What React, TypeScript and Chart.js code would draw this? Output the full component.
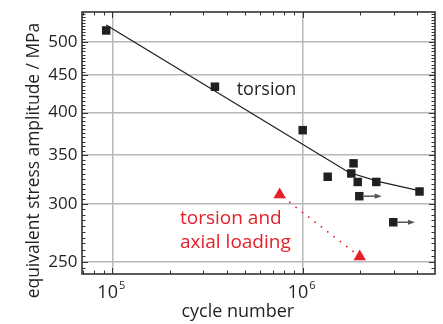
import React, { useEffect, useRef } from 'react';
import { Chart, registerables } from 'chart.js';

Chart.register(...registerables);

// ---- data ----
const torsionCycles = [9.29e4, 3.46e5, 1.0e6, 1.353e6, 1.8e6, 1.849e6, 1.945e6, 2.436e6, 4.107e6, 1.983e6, 2.991e6];
const torsionStress = [518, 434, 378.5, 326.9, 330.3, 341, 321.6, 321.6, 312.1, 307.5, 283.3];

const runoutCycles = [1.983e6, 2.991e6];
const runoutStress = [307.5, 283.3];
const runoutArrowTo = [2.6e6, 3.89e6];

const fitCycles = [9.29e4, 1.751e6, 2.547e6, 4.082e6];
const fitStress = [527, 331.3, 321.8, 313];

const combinedCycles = [7.57e5, 1.993e6];
const combinedStress = [309, 254.3];

const xTicks = [1e5, 1e6];
const xTickExponents = ['5', '6'];
const xMinorTicks = [7e4, 8e4, 9e4, 2e5, 3e5, 4e5, 5e5, 6e5, 7e5, 8e5, 9e5, 2e6, 3e6, 4e6];
const yTicks = [250, 300, 350, 400, 450, 500];
const yMinorStep = 5;

const X_MIN = 69330;
const X_MAX = 4.953e6;
const Y_MIN = 240.74;
const Y_MAX = 548.97;

const DARK = '#231f20';
const RED = '#e5202a';
const FONT = '"Open Sans", "Noto Sans", sans-serif';

const decor = {
  id: 'decor',
  afterDatasetsDraw(chart: any) {
    const { ctx, chartArea: a, scales } = chart;
    const xs = scales.x;
    const ys = scales.y;
    ctx.save();
    // run-out arrows
    ctx.strokeStyle = '#555';
    ctx.fillStyle = '#555';
    ctx.lineWidth = 1.5;
    runoutCycles.forEach((c, i) => {
      const x0 = xs.getPixelForValue(c) + 4.3;
      const yy = ys.getPixelForValue(runoutStress[i]);
      const x1 = xs.getPixelForValue(runoutArrowTo[i]);
      ctx.beginPath();
      ctx.moveTo(x0, yy);
      ctx.lineTo(x1 - 5, yy);
      ctx.stroke();
      ctx.beginPath();
      ctx.moveTo(x1, yy);
      ctx.lineTo(x1 - 7, yy - 2.6);
      ctx.lineTo(x1 - 7, yy + 2.6);
      ctx.closePath();
      ctx.fill();
    });

    // minor / major tick marks on all four sides (inward)
    ctx.strokeStyle = '#333';
    ctx.lineWidth = 1;
    const tick = (x1: number, y1: number, x2: number, y2: number) => {
      ctx.beginPath();
      ctx.moveTo(x1, y1);
      ctx.lineTo(x2, y2);
      ctx.stroke();
    };
    const drawX = (v: number, len: number) => {
      const px = Math.round(xs.getPixelForValue(v)) + 0.5;
      tick(px, a.bottom, px, a.bottom - len);
      tick(px, a.top, px, a.top + len);
    };
    const drawY = (v: number, len: number) => {
      const py = Math.round(ys.getPixelForValue(v)) + 0.5;
      tick(a.left, py, a.left + len, py);
      tick(a.right, py, a.right - len, py);
    };
    xMinorTicks.forEach((v) => drawX(v, 3.5));
    xTicks.forEach((v) => drawX(v, 6));
    for (let v = 245; v < Y_MAX; v += yMinorStep) {
      if (v > Y_MIN) drawY(v, 3.5);
    }
    yTicks.forEach((v) => drawY(v, 6));

    // frame
    ctx.strokeStyle = '#333';
    ctx.lineWidth = 1.6;
    ctx.strokeRect(a.left, a.top, a.right - a.left, a.bottom - a.top);
    ctx.restore();
  },
  afterDraw(chart: any) {
    const { ctx, scales } = chart;
    const xs = scales.x;
    const ys = scales.y;
    ctx.save();
    ctx.fillStyle = DARK;
    // y tick labels
    ctx.font = `17px ${FONT}`;
    ctx.textAlign = 'right';
    ctx.textBaseline = 'middle';
    yTicks.forEach((v) => {
      ctx.fillText(String(v), 77.5, ys.getPixelForValue(v));
    });
    // x tick labels with superscripts
    ctx.textBaseline = 'alphabetic';
    ctx.textAlign = 'left';
    xTicks.forEach((v, i) => {
      const px = xs.getPixelForValue(v);
      ctx.font = `18px ${FONT}`;
      const w1 = ctx.measureText('10').width;
      ctx.font = `11px ${FONT}`;
      const w2 = ctx.measureText(xTickExponents[i]).width;
      const start = px - (w1 + w2 + 1) / 2 - 1;
      ctx.font = `18px ${FONT}`;
      ctx.fillText('10', start, 297.7);
      ctx.font = `11px ${FONT}`;
      ctx.fillText(xTickExponents[i], start + w1 + 1, 289);
    });
    // axis titles
    ctx.font = `18px ${FONT}`;
    ctx.textAlign = 'center';
    ctx.fillText('cycle number', 237.8, 316.7);
    ctx.save();
    ctx.translate(38.5, 160.5);
    ctx.rotate(-Math.PI / 2);
    ctx.font = `17.4px ${FONT}`;
    ctx.fillText('equivalent stress amplitude / MPa', 0, 0);
    ctx.restore();
    // annotations
    ctx.textAlign = 'left';
    ctx.font = `18px ${FONT}`;
    ctx.fillText('torsion', 236.7, 95);
    ctx.fillStyle = RED;
    ctx.font = `19px ${FONT}`;
    ctx.fillText('torsion and', 180, 224);
    ctx.fillText('axial loading', 180, 248.3);
    ctx.restore();
  },
};

export default function App() {
  const ref = useRef<HTMLCanvasElement | null>(null);
  useEffect(() => {
    if (!ref.current) return;
    const torsion = torsionCycles.map((c, i) => ({ x: c, y: torsionStress[i] }));
    const fit = fitCycles.map((c, i) => ({ x: c, y: fitStress[i] }));
    const combined = combinedCycles.map((c, i) => ({ x: c, y: combinedStress[i] }));
    const chart = new Chart(ref.current, {
      type: 'scatter',
      data: {
        datasets: [
          {
            label: 'torsion',
            data: torsion,
            pointStyle: 'rect',
            pointRadius: 6,
            pointBorderWidth: 0,
            backgroundColor: DARK,
            borderColor: DARK,
            showLine: false,
          },
          {
            label: 'fit',
            data: fit,
            showLine: true,
            pointRadius: 0,
            borderColor: DARK,
            borderWidth: 1.3,
          },
          {
            label: 'torsion and axial loading',
            data: combined,
            showLine: true,
            pointStyle: 'triangle',
            pointRadius: 7.2,
            pointBorderWidth: 0,
            backgroundColor: RED,
            borderColor: RED,
            borderWidth: 1.6,
            borderDash: [1.6, 6.4],
            borderDashOffset: 4,
          },
        ],
      },
      options: {
        animation: false,
        responsive: false,
        devicePixelRatio: 1,
        layout: { padding: { left: 82, top: 12, right: 8, bottom: 50 } },
        plugins: { legend: { display: false }, tooltip: { enabled: false } },
        scales: {
          x: {
            type: 'logarithmic',
            min: X_MIN,
            max: X_MAX,
            bounds: 'data',
            afterBuildTicks: (s: any) => {
              s.ticks = xTicks.map((v) => ({ value: v }));
            },
            ticks: { display: false },
            grid: { color: '#b8b8b8', lineWidth: 1.5, drawTicks: false },
            border: { display: false },
          },
          y: {
            type: 'logarithmic',
            min: Y_MIN,
            max: Y_MAX,
            bounds: 'data',
            afterBuildTicks: (s: any) => {
              s.ticks = yTicks.map((v) => ({ value: v }));
            },
            ticks: { display: false },
            grid: { color: '#b8b8b8', lineWidth: 1.5, drawTicks: false },
            border: { display: false },
          },
        },
      },
      plugins: [decor],
    } as any);
    return () => chart.destroy();
  }, []);
  return (
    <div style={{ position: 'fixed', left: 0, top: 0, width: 443, height: 324, background: '#fff' }}>
      <canvas ref={ref} width={443} height={324} />
    </div>
  );
}
